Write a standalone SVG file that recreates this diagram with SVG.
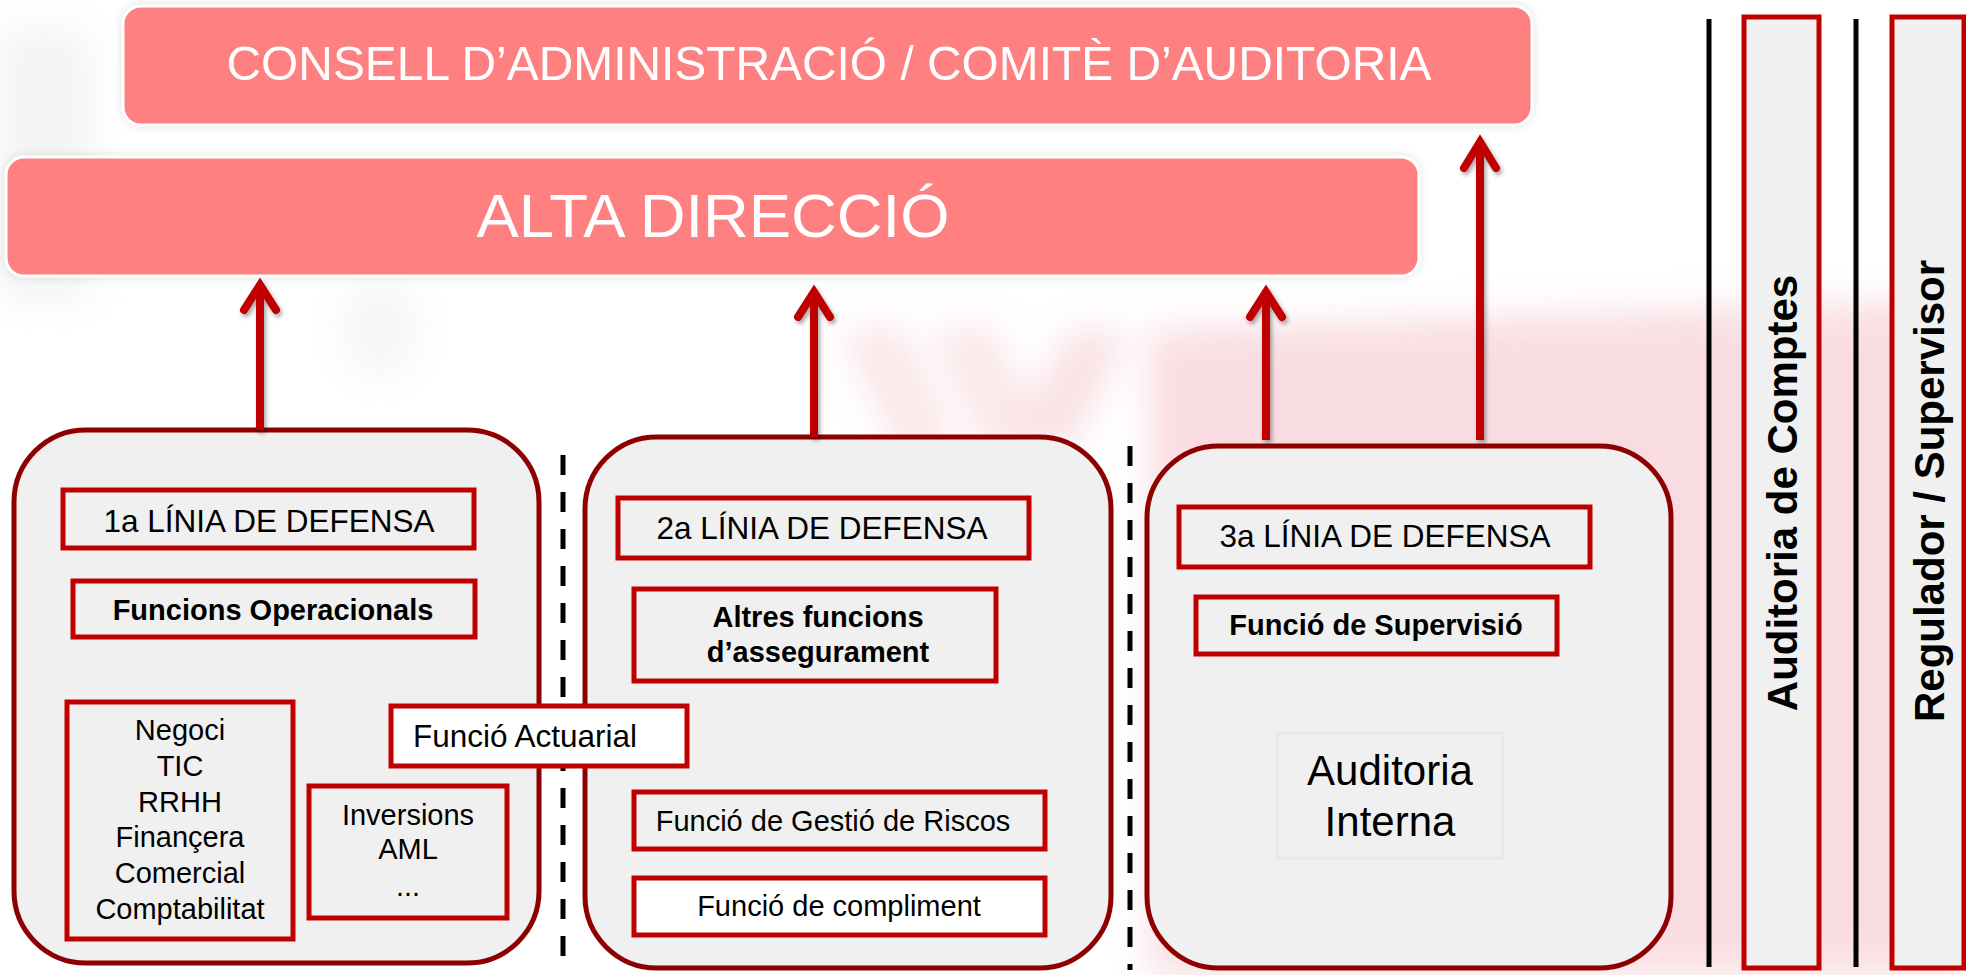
<svg xmlns="http://www.w3.org/2000/svg" width="1966" height="975" viewBox="0 0 1966 975">
<defs>
<style>
.hdr{fill:#FF8080;stroke:#FFFFFF;stroke-width:3}
.hdrt{fill:#FFFFFF;font-family:"Liberation Sans",Arial,sans-serif;text-anchor:middle}
.panel{fill:#F0F0F0;stroke:#8E0000;stroke-width:5}
.box{fill:#F0F0F0;stroke:#C00000;stroke-width:5}
.wbox{fill:#FFFFFF;stroke:#C00000;stroke-width:5}
.t{font-family:"Liberation Sans",Arial,sans-serif;fill:#000;text-anchor:middle}
.b{font-weight:bold}
.arr{stroke:#C00000;stroke-width:8;fill:none;stroke-linecap:butt}
.head{stroke:#C00000;stroke-width:8;fill:none;stroke-linecap:round;stroke-linejoin:miter}
.dash{stroke:#000;stroke-width:5;stroke-dasharray:20 17}
.vline{stroke:#000;stroke-width:5}
</style>
<filter id="sh" x="-50%" y="-10%" width="200%" height="130%">
<feDropShadow dx="2" dy="3" stdDeviation="2" flood-color="#000" flood-opacity="0.35"/>
</filter>
<filter id="glow" x="-5%" y="-20%" width="110%" height="140%">
<feDropShadow dx="0" dy="0" stdDeviation="4" flood-color="#000" flood-opacity="0.12"/>
</filter>
<filter id="blur" x="-30%" y="-30%" width="160%" height="160%">
<feGaussianBlur stdDeviation="18"/>
</filter>
</defs>
<rect width="1966" height="975" fill="#FFFFFF"/>
<g id="watermark" filter="url(#blur)" opacity="0.5">
<path d="M1150,330 L1966,300 L1966,975 L1150,975 Z" fill="#F3BBC4"/>
<path d="M840,330 L900,325 L960,450 L900,455 Z" fill="#F6CDD3"/>
<path d="M930,330 L990,325 L1050,450 L990,455 Z" fill="#F6CDD3"/>
<path d="M1010,440 L1070,330 L1130,330 L1070,450 Z" fill="#F3C2CA"/>
<path d="M0,30 L90,30 L90,300 L0,300 Z" fill="#E8E8E8"/>
<ellipse cx="380" cy="330" rx="40" ry="50" fill="#EDEDED"/>
</g>
<g id="consell" filter="url(#glow)">
<rect class="hdr" x="123" y="6" width="1409" height="119" rx="18"/>
<text class="hdrt" x="829" y="80" font-size="48" textLength="1205" lengthAdjust="spacingAndGlyphs">CONSELL D’ADMINISTRACIÓ / COMITÈ D’AUDITORIA</text>
</g>
<g id="alta-direccio" filter="url(#glow)">
<rect class="hdr" x="6" y="157" width="1413" height="119" rx="18"/>
<text class="hdrt" x="713" y="237" font-size="62" textLength="473" lengthAdjust="spacingAndGlyphs">ALTA DIRECCIÓ</text>
</g>
<g id="separators">
<line class="dash" x1="563" y1="455" x2="563" y2="970"/>
<line class="dash" x1="1130" y1="446" x2="1130" y2="970"/>
<line class="vline" x1="1709" y1="19" x2="1709" y2="967"/>
<line class="vline" x1="1856" y1="19" x2="1856" y2="967"/>
</g>
<g id="panel-1">
<rect class="panel" x="14" y="430" width="525" height="533" rx="72"/>
</g>
<g id="panel-2">
<rect class="panel" x="585" y="437" width="526" height="531" rx="72"/>
</g>
<g id="panel-3">
<rect class="panel" x="1147" y="446" width="524" height="522" rx="72"/>
</g>
<g id="linia-1">
<rect class="box" x="63" y="490" width="411" height="58"/>
<text class="t" x="269" y="532" font-size="31.5">1a LÍNIA DE DEFENSA</text>
</g>
<g id="funcions-operacionals">
<rect class="box" x="73" y="581" width="402" height="56"/>
<text class="t b" x="273" y="620" font-size="29">Funcions Operacionals</text>
</g>
<g id="negoci">
<rect class="box" x="67" y="702" width="226" height="237"/>
<text class="t" font-size="29"><tspan x="180" y="740">Negoci</tspan><tspan x="180" y="775.8">TIC</tspan><tspan x="180" y="811.6">RRHH</tspan><tspan x="180" y="847.4">Finançera</tspan><tspan x="180" y="883.2">Comercial</tspan><tspan x="180" y="919">Comptabilitat</tspan></text>
</g>
<g id="inversions">
<rect class="box" x="309" y="786" width="198" height="132"/>
<text class="t" font-size="29"><tspan x="408" y="825">Inversions</tspan><tspan x="408" y="859">AML</tspan><tspan x="408" y="896">...</tspan></text>
</g>
<g id="linia-2">
<rect class="box" x="618" y="498" width="411" height="60"/>
<text class="t" x="822" y="539" font-size="31.5">2a LÍNIA DE DEFENSA</text>
</g>
<g id="altres-funcions">
<rect class="box" x="634" y="589" width="362" height="92"/>
<text class="t b" font-size="29"><tspan x="818" y="627">Altres funcions</tspan><tspan x="818" y="662">d’assegurament</tspan></text>
</g>
<g id="gestio-riscos">
<rect class="box" x="634" y="792" width="411" height="57"/>
<text class="t" x="833" y="831" font-size="29">Funció de Gestió de Riscos</text>
</g>
<g id="compliment">
<rect class="wbox" x="634" y="878" width="411" height="57"/>
<text class="t" x="839" y="916" font-size="29">Funció de compliment</text>
</g>
<g id="actuarial">
<rect class="wbox" x="391" y="706" width="296" height="60"/>
<text class="t" x="413" y="747" font-size="31.5" style="text-anchor:start">Funció Actuarial</text>
</g>
<g id="linia-3">
<rect class="box" x="1179" y="507" width="411" height="60"/>
<text class="t" x="1385" y="547" font-size="31.5">3a LÍNIA DE DEFENSA</text>
</g>
<g id="supervisio">
<rect class="box" x="1196" y="597" width="361" height="57"/>
<text class="t b" x="1376" y="635" font-size="29">Funció de Supervisió</text>
</g>
<g id="auditoria-interna">
<rect x="1277" y="733" width="226" height="125" fill="#F0F0F0" stroke="#E3ECE3" stroke-width="3"/>
<text class="t" font-size="42"><tspan x="1390" y="785">Auditoria</tspan><tspan x="1390" y="836">Interna</tspan></text>
</g>
<g id="auditoria-comptes">
<rect class="box" x="1744" y="17" width="75" height="951"/>
<text class="t b" font-size="42" transform="translate(1797,493) rotate(-90)" x="0" y="0">Auditoria de Comptes</text>
</g>
<g id="regulador">
<rect class="box" x="1892" y="17" width="72" height="951"/>
<text class="t b" font-size="42" transform="translate(1944,491) rotate(-90)" x="0" y="0">Regulador / Supervisor</text>
</g>
<g id="connectors" filter="url(#sh)">
<line class="arr" x1="260" y1="430" x2="260" y2="288"/>
<polyline class="head" points="244,310 260,285 276,310"/>
<line class="arr" x1="814" y1="437" x2="814" y2="296"/>
<polyline class="head" points="798,317 814,292 830,317"/>
<line class="arr" x1="1266" y1="440" x2="1266" y2="296"/>
<polyline class="head" points="1250,317 1266,292 1282,317"/>
<line class="arr" x1="1480" y1="440" x2="1480" y2="145"/>
<polyline class="head" points="1464,168 1480,142 1496,168"/>
</g>
</svg>
